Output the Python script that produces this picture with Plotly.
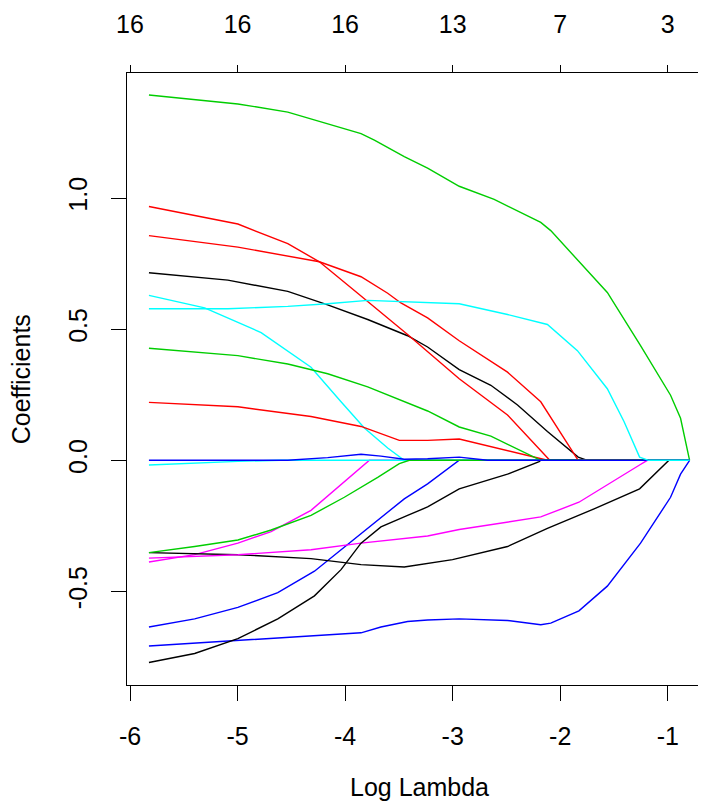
import plotly.graph_objects as go

# log(lambda) ticks and the number of non-zero coefficients shown on top
log_lambda_ticks = [-6, -5, -4, -3, -2, -1]
df_labels = ["16", "16", "16", "13", "7", "3"]

# coefficient paths (log lambda, coefficient)
black_1_x = [-5.824, -5.090, -4.533, -4.162, -3.790, -3.419, -3.233, -2.939, -2.645, -2.397, -2.119, -1.833, -1.747, -0.797]
black_1_y = [0.715, 0.687, 0.644, 0.593, 0.537, 0.475, 0.432, 0.346, 0.286, 0.211, 0.110, 0.012, 0.0, 0.0]

red_1_x = [-5.824, -4.997, -4.533, -4.239, -3.883, -3.790, -3.419, -2.939, -2.490, -2.097, -0.797]
red_1_y = [0.968, 0.901, 0.826, 0.757, 0.637, 0.606, 0.480, 0.311, 0.173, 0.0, 0.0]

green_1_x = [-5.824, -4.997, -4.533, -4.162, -3.852, -3.728, -3.450, -3.233, -2.939, -2.614, -2.181, -2.088, -1.811, -1.562, -1.253, -0.974, -0.881, -0.797]
green_1_y = [1.393, 1.359, 1.328, 1.284, 1.246, 1.221, 1.158, 1.114, 1.045, 0.995, 0.907, 0.876, 0.750, 0.640, 0.437, 0.248, 0.160, 0.0]

blue_1_x = [-5.824, -5.399, -4.997, -4.626, -4.285, -4.038, -3.852, -3.667, -3.450, -3.233, -3.110, -2.939, -0.797]
blue_1_y = [-0.636, -0.605, -0.561, -0.505, -0.423, -0.341, -0.279, -0.216, -0.147, -0.090, -0.053, 0.0, 0.0]

cyan_1_x = [-5.824, -5.306, -4.781, -4.317, -4.038, -3.821, -3.604, -3.450, -0.797]
cyan_1_y = [0.629, 0.581, 0.487, 0.355, 0.223, 0.123, 0.047, 0.0, 0.0]

magenta_1_x = [-5.824, -5.399, -4.997, -4.688, -4.317, -4.069, -3.852, -3.774, -0.797]
magenta_1_y = [-0.388, -0.360, -0.316, -0.272, -0.191, -0.103, -0.025, 0.0, 0.0]

black_2_x = [-5.824, -4.997, -4.317, -3.852, -3.450, -3.233, -3.001, -2.490, -2.119, -1.685, -1.262, -0.989, -0.797]
black_2_y = [-0.352, -0.360, -0.375, -0.398, -0.407, -0.394, -0.379, -0.329, -0.260, -0.185, -0.109, 0.0, 0.0]

red_2_x = [-5.824, -4.997, -4.317, -3.852, -3.496, -3.233, -2.939, -2.119, -0.797]
red_2_y = [0.221, 0.204, 0.167, 0.129, 0.076, 0.076, 0.081, 0.0, 0.0]

green_2_x = [-5.824, -4.997, -4.533, -4.162, -3.790, -3.450, -3.233, -2.939, -2.645, -2.181, -0.797]
green_2_y = [0.427, 0.399, 0.367, 0.330, 0.280, 0.223, 0.188, 0.127, 0.092, 0.0, 0.0]

blue_2_x = [-5.824, -4.997, -4.317, -3.852, -3.667, -3.419, -3.233, -2.939, -2.490, -2.181, -2.088, -1.826, -1.562, -1.253, -0.974, -0.881, -0.797]
blue_2_y = [-0.708, -0.687, -0.668, -0.658, -0.636, -0.615, -0.609, -0.605, -0.611, -0.627, -0.621, -0.574, -0.480, -0.316, -0.141, -0.053, 0.0]

cyan_2_x = [-5.824, -5.399, -4.997, -4.600, -0.797]
cyan_2_y = [-0.018, -0.010, -0.004, 0.0, 0.0]

magenta_2_x = [-5.824, -4.997, -4.317, -3.852, -3.233, -2.939, -2.181, -1.826, -1.262, -1.190, -0.797]
magenta_2_y = [-0.373, -0.360, -0.341, -0.316, -0.289, -0.264, -0.216, -0.160, -0.018, 0.0, 0.0]

black_3_x = [-5.824, -5.399, -4.997, -4.626, -4.285, -4.038, -3.852, -3.667, -3.419, -3.233, -2.939, -2.490, -2.196, -2.181, -0.797]
black_3_y = [-0.771, -0.737, -0.680, -0.605, -0.517, -0.417, -0.316, -0.254, -0.210, -0.178, -0.109, -0.053, -0.005, 0.0, 0.0]

red_3_x = [-5.824, -4.997, -4.239, -3.852, -3.604, -3.481, -3.233, -2.939, -2.490, -2.181, -1.833, -0.797]
red_3_y = [0.857, 0.813, 0.757, 0.700, 0.637, 0.600, 0.543, 0.456, 0.336, 0.223, 0.0, 0.0]

green_3_x = [-5.824, -5.399, -4.997, -4.688, -4.317, -4.007, -3.697, -3.496, -3.403, -0.797]
green_3_y = [-0.352, -0.329, -0.304, -0.266, -0.210, -0.141, -0.065, -0.013, 0.0, 0.0]

blue_3_x = [-5.824, -4.533, -4.162, -3.852, -3.667, -3.450, -3.233, -2.939, -2.676, -0.797]
blue_3_y = [0.0, 0.0, 0.010, 0.023, 0.016, 0.004, 0.006, 0.012, 0.0, 0.0]

cyan_3_x = [-5.824, -5.090, -4.533, -4.162, -3.790, -3.233, -2.939, -2.490, -2.119, -1.840, -1.562, -1.407, -1.262, -1.178, -0.797]
cyan_3_y = [0.578, 0.578, 0.587, 0.597, 0.610, 0.602, 0.597, 0.556, 0.518, 0.418, 0.273, 0.148, 0.012, 0.0, 0.0]

# R palette colours, cycled like matplot does
BLACK, RED, GREEN, BLUE, CYAN, MAGENTA = "#000000", "#FF0000", "#00CD00", "#0000FF", "#00FFFF", "#FF00FF"

paths = [
    (black_1_x, black_1_y, BLACK), (red_1_x, red_1_y, RED), (green_1_x, green_1_y, GREEN),
    (blue_1_x, blue_1_y, BLUE), (cyan_1_x, cyan_1_y, CYAN), (magenta_1_x, magenta_1_y, MAGENTA),
    (black_2_x, black_2_y, BLACK), (red_2_x, red_2_y, RED), (green_2_x, green_2_y, GREEN),
    (blue_2_x, blue_2_y, BLUE), (cyan_2_x, cyan_2_y, CYAN), (magenta_2_x, magenta_2_y, MAGENTA),
    (black_3_x, black_3_y, BLACK), (red_3_x, red_3_y, RED), (green_3_x, green_3_y, GREEN),
    (blue_3_x, blue_3_y, BLUE), (cyan_3_x, cyan_3_y, CYAN),
]

FONT = "Liberation Sans, Arial, sans-serif"
x_range = [-6.028, -0.598]

fig = go.Figure()
for xs, ys, col in paths:
    fig.add_trace(go.Scatter(x=xs, y=ys, mode="lines", line=dict(color=col, width=1.4),
                             showlegend=False, hoverinfo="skip"))

# invisible trace so the top axis gets drawn
fig.add_trace(go.Scatter(x=x_range, y=[0, 0], xaxis="x2", mode="lines",
                         line=dict(width=0), showlegend=False, hoverinfo="skip"))

fig.update_layout(
    width=706, height=802,
    margin=dict(l=119, r=2, t=57, b=125),
    paper_bgcolor="white", plot_bgcolor="white",
    font=dict(family=FONT, size=25, color="black"),
    xaxis=dict(range=x_range, tickvals=log_lambda_ticks, ticktext=[str(v) for v in log_lambda_ticks],
               showgrid=False, zeroline=False, showline=True, mirror=True, linecolor="black", linewidth=1,
               ticks="outside", ticklen=15, tickcolor="black", tickwidth=1, ticklabelstandoff=14),
    xaxis2=dict(range=x_range, overlaying="x", side="top", tickvals=log_lambda_ticks, ticktext=df_labels,
                showgrid=False, zeroline=False, showline=False,
                ticks="outside", ticklen=7, tickcolor="black", tickwidth=1, ticklabelstandoff=22),
    yaxis=dict(range=[-0.857, 1.477], tickvals=[-0.5, 0.0, 0.5, 1.0], ticktext=["-0.5", "0.0", "0.5", "1.0"],
               showgrid=False, zeroline=False, showline=True, mirror=True, linecolor="black", linewidth=1,
               ticks="outside", ticklen=15, tickcolor="black", tickwidth=1, tickangle=-90, ticklabelstandoff=14),
    annotations=[
        dict(text="Log Lambda", xref="paper", yref="paper", x=0.5, y=-0.166, showarrow=False,
             xanchor="center", yanchor="middle", font=dict(size=25)),
        dict(text="Coefficients", xref="paper", yref="paper", x=-0.181, y=0.5, showarrow=False,
             textangle=-90, xanchor="center", yanchor="middle", font=dict(size=25)),
    ],
)

fig.write_html("out.html")
